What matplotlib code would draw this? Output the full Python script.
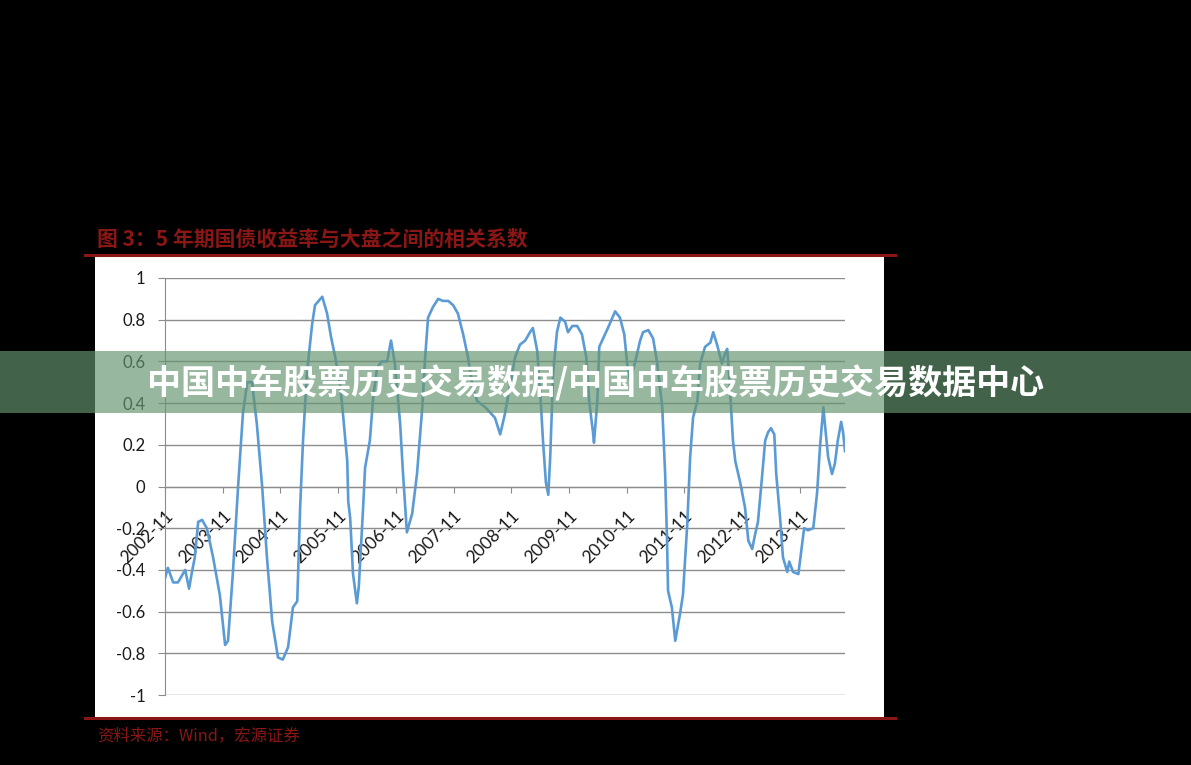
import matplotlib.pyplot as plt
from matplotlib.patches import Rectangle
from matplotlib.lines import Line2D

plt.rcParams['font.family'] = ['Lato', 'Noto Sans CJK SC', 'DejaVu Sans']

# months since 2002-11, and the rolling correlation
months = [0.0, 0.6, 1.7, 2.7, 4.2, 5.0, 5.6, 6.2, 6.9, 7.7, 8.7, 10.0, 11.4, 12.5, 13.1,
          14.1, 15.2, 16.2, 17.1, 18.1, 19.1, 20.2, 21.2, 22.3, 23.5, 24.5, 25.6, 26.6,
          27.5, 28.1, 28.7, 29.5, 30.6, 31.2, 32.7, 33.7, 34.5, 35.4, 36.4, 37.0, 37.9,
          38.1, 38.5, 39.1, 39.9, 40.3, 41.2, 41.6, 42.6, 43.3, 44.1, 45.1, 46.2, 47.0,
          47.8, 48.9, 49.5, 50.3, 51.4, 52.4, 53.5, 54.1, 54.7, 55.7, 56.8, 57.8, 58.9,
          59.9, 60.9, 62.0, 63.0, 63.9, 64.9, 66.6, 68.6, 69.7, 70.7, 71.8, 72.8, 73.8,
          74.9, 75.9, 76.5, 77.4, 78.0, 78.6, 79.2, 79.7, 80.1, 80.7, 81.5, 82.2, 83.2,
          83.8, 84.7, 85.7, 86.7, 87.6, 88.2, 89.0, 89.2, 89.9, 90.3, 91.1, 92.1, 93.6,
          94.6, 95.5, 96.1, 96.7, 97.8, 98.8, 99.4, 100.5, 101.5, 102.3, 103.4, 104.0,
          104.4, 104.6, 105.4, 106.1, 107.1, 107.7, 108.6, 109.2, 109.8, 110.7, 111.3,
          112.3, 113.4, 114.0, 114.8, 115.8, 116.5, 116.9, 117.3, 118.1, 118.6, 119.6,
          120.6, 121.3, 122.1, 122.7, 123.3, 124.2, 124.8, 125.4, 126.0, 126.7, 127.1,
          127.9, 128.5, 129.4, 129.8, 130.6, 131.7, 132.3, 132.9, 133.7, 134.8, 135.6,
          136.2, 136.9, 137.3, 137.9, 138.7, 139.3, 139.9, 140.6, 141.0, 141.4]
corr = [-0.44, -0.39, -0.46, -0.46, -0.40, -0.49, -0.41, -0.34, -0.17, -0.16, -0.20, -0.34,
        -0.52, -0.76, -0.74, -0.42, 0.00, 0.35, 0.50, 0.50, 0.30, 0.00, -0.34, -0.65, -0.82,
        -0.83, -0.77, -0.58, -0.55, -0.10, 0.22, 0.54, 0.78, 0.87, 0.91, 0.83, 0.72, 0.62,
        0.49, 0.35, 0.12, -0.07, -0.15, -0.42, -0.56, -0.48, -0.10, 0.09, 0.22, 0.43, 0.57,
        0.60, 0.60, 0.70, 0.59, 0.30, 0.06, -0.22, -0.13, 0.06, 0.38, 0.62, 0.81, 0.86, 0.90,
        0.89, 0.89, 0.87, 0.83, 0.73, 0.62, 0.49, 0.41, 0.38, 0.33, 0.25, 0.35, 0.49, 0.62,
        0.68, 0.70, 0.74, 0.76, 0.65, 0.46, 0.22, 0.02, -0.04, 0.14, 0.54, 0.74, 0.81, 0.79,
        0.74, 0.77, 0.77, 0.73, 0.62, 0.41, 0.26, 0.21, 0.41, 0.67, 0.71, 0.76, 0.84, 0.81,
        0.73, 0.59, 0.51, 0.60, 0.70, 0.74, 0.75, 0.71, 0.60, 0.38, 0.06, -0.26, -0.50, -0.58,
        -0.74, -0.61, -0.52, -0.18, 0.14, 0.33, 0.41, 0.59, 0.67, 0.69, 0.74, 0.68, 0.59, 0.64,
        0.66, 0.54, 0.22, 0.12, 0.02, -0.10, -0.26, -0.30, -0.23, -0.17, 0.06, 0.22, 0.26,
        0.28, 0.25, 0.06, -0.15, -0.34, -0.41, -0.36, -0.41, -0.42, -0.31, -0.20, -0.21,
        -0.20, -0.03, 0.19, 0.38, 0.28, 0.14, 0.06, 0.11, 0.22, 0.31, 0.26, 0.17]

tick_months = [0, 12, 24, 36, 48, 60, 72, 84, 96, 108, 120, 132]
tick_labels = ['2002-11', '2003-11', '2004-11', '2005-11', '2006-11', '2007-11',
               '2008-11', '2009-11', '2010-11', '2011-11', '2012-11', '2013-11']
y_ticks = [-1, -0.8, -0.6, -0.4, -0.2, 0, 0.2, 0.4, 0.6, 0.8, 1]
y_labels = ['-1', '-0.8', '-0.6', '-0.4', '-0.2', '0', '0.2', '0.4', '0.6', '0.8', '1']

title = '图 3：5 年期国债收益率与大盘之间的相关系数'
source = '资料来源：Wind，宏源证券'
banner = '中国中车股票历史交易数据/中国中车股票历史交易数据中心'

W, H = 1191, 765
red = '#8a1616'
grey = '#8c8c8c'

fig = plt.figure(figsize=(W / 100, H / 100), dpi=100, facecolor='black')

# white card behind the chart + the two red rules
fig.add_artist(Rectangle((95 / W, 1 - 717 / H), (884 - 95) / W, (717 - 255) / H,
                         transform=fig.transFigure, facecolor='white', edgecolor='none', zorder=-1))
fig.add_artist(Line2D([85 / W, 895 / W], [1 - 255 / H] * 2, transform=fig.transFigure, color=red, lw=2.2))
fig.add_artist(Line2D([85 / W, 895 / W], [1 - 718 / H] * 2, transform=fig.transFigure, color=red, lw=2.2))

fig.text(97 / W, 1 - 239 / H, title, color=red, fontsize=15, fontweight='bold',
         family=['Noto Sans CJK SC', 'DejaVu Sans'], va='center')
fig.text(97 / W, 1 - 736 / H, source, color=red, fontsize=11.8, style='italic',
         family=['Noto Sans CJK SC', 'DejaVu Sans'], va='center')

ax = fig.add_axes([165 / W, 1 - 695 / H, 680 / W, 417 / H])
ax.set_facecolor('none')
ax.plot(months, corr, color='#5b9bd5', lw=1.9)
ax.set_xlim(0, 141.4)
ax.set_ylim(-1, 1)

ax.set_yticks(y_ticks)
ax.set_yticklabels(y_labels)
ax.grid(axis='y', color=grey, lw=1)
for s in ['top', 'right']:
    ax.spines[s].set_visible(False)
ax.spines['left'].set_color(grey)
ax.spines['bottom'].set_color(grey)
ax.spines['bottom'].set_position(('data', 0))
ax.tick_params(axis='y', length=5, color=grey, pad=9, labelsize=12, labelcolor='#1a1a1a')

ax.set_xticks(tick_months)
ax.set_xticklabels(tick_labels, rotation=45, ha='right', va='top', rotation_mode='anchor')
ax.tick_params(axis='x', length=4.5, color=grey, pad=11, labelsize=12.5, labelcolor='#1a1a1a')

# watermark banner on top of everything
fig.add_artist(Rectangle((0, 1 - 413 / H), 1, 62 / H, transform=fig.transFigure,
                         facecolor='#649470', edgecolor='none', alpha=0.67, zorder=5))
fig.text(0.5, 1 - 383 / H, banner, color='white', fontsize=24.5, fontweight='bold',
         family=['Noto Sans CJK SC', 'DejaVu Sans'], ha='center', va='center', zorder=6)

fig.savefig('out.png', dpi=100, facecolor='black')
